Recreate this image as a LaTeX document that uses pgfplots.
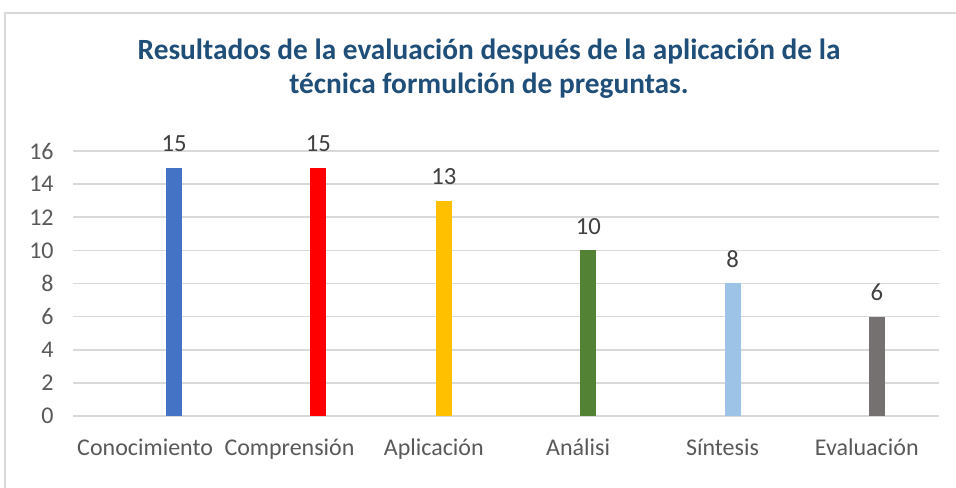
\documentclass[border=0pt]{standalone}
\usepackage{pgfplots}
\pgfplotsset{compat=1.18}
\usepackage{fontspec}
\setmainfont{Carlito}
\definecolor{titleblue}{RGB}{31,78,121}
\definecolor{tickgray}{RGB}{89,89,89}
\definecolor{labgray}{RGB}{64,64,64}
\definecolor{gridgray}{RGB}{217,217,217}
\definecolor{c1}{RGB}{68,114,196}
\definecolor{c2}{RGB}{255,0,0}
\definecolor{c3}{RGB}{255,192,0}
\definecolor{c4}{RGB}{84,130,53}
\definecolor{c5}{RGB}{157,195,230}
\definecolor{c6}{RGB}{118,113,113}
\begin{document}
\begin{tikzpicture}[x=0.75pt,y=0.75pt]
\clip (0,0) rectangle (956,488);
\fill[white] (0,0) rectangle (956,488);
\draw[gridgray,line width=1.5pt] (5,-10) -- (5,475) -- (970,475);
\node[anchor=base,text=titleblue,font=\fontsize{22}{26}\selectfont\bfseries] at (489,428) {Resultados de la evaluación después de la aplicación de la};
\node[anchor=base,text=titleblue,font=\fontsize{22}{26}\selectfont\bfseries] at (489,394) {técnica formulción de preguntas.};
\begin{axis}[
  at={(54.75pt,54pt)}, anchor=origin,
  scale only axis, width=649.5pt, height=198.75pt,
  xmin=0, xmax=6, ymin=0, ymax=16,
  ytick={0,2,...,16},
  xtick={0.5,1.5,2.5,3.5,4.5,5.5},
  xticklabels={Conocimiento,Comprensión,Aplicación,Análisi,Síntesis,Evaluación},
  axis line style={draw=none},
  major tick length=0pt,
  ymajorgrids, grid style={gridgray,line width=1.3pt},
  /pgf/number format/assume math mode=true,
  ticklabel style={text=tickgray,font=\fontsize{18}{21}\selectfont},
  yticklabel style={xshift=-11pt},
  xticklabel style={anchor=base,yshift=-29.5pt},
  ybar, bar width=12pt, bar shift=0pt,
  nodes near coords,
  every node near coord/.append style={text=labgray,font=\fontsize{18.5}{21}\selectfont,yshift=8.5pt},
]
\addplot[fill=c1,draw=none] coordinates {(0.70,15)};
\addplot[fill=c2,draw=none] coordinates {(1.70,15)};
\addplot[fill=c3,draw=none] coordinates {(2.57,13)};
\addplot[fill=c4,draw=none] coordinates {(3.57,10)};
\addplot[fill=c5,draw=none] coordinates {(4.57,8)};
\addplot[fill=c6,draw=none] coordinates {(5.57,6)};
\end{axis}
\end{tikzpicture}
\end{document}
